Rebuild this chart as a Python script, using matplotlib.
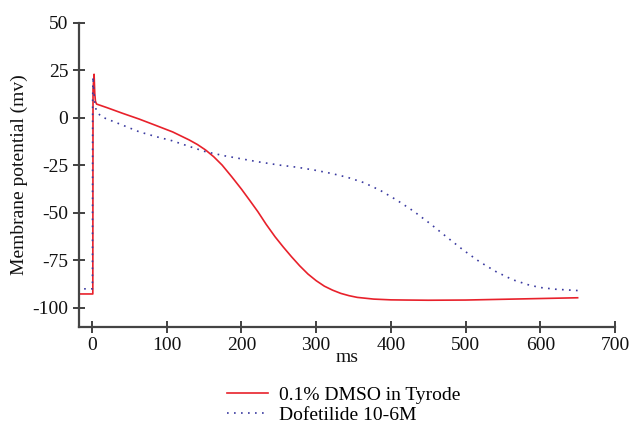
import matplotlib
matplotlib.use("Agg")
import matplotlib.pyplot as plt

plt.rcParams['font.family'] = ['Liberation Serif', 'DejaVu Serif']

# DMSO control (red)
t_dmso = [-20, 1.0, 1.3, 2.7, 3.6, 4.5, 6, 20, 41, 63, 85, 108, 130, 141, 152, 163, 174,
          187, 200, 211, 222, 233, 245, 256, 267, 278, 289, 300, 311, 322, 333, 344, 355,
          377, 400, 421, 450, 500, 550, 600, 650]
v_dmso = [-92.7, -92.7, 15, 23, 13, 8.8, 7.3, 5.4, 2.4, -0.6, -3.9, -7.4, -11.6, -14.0,
          -16.9, -20.5, -24.8, -31.0, -37.5, -43.4, -49.4, -56.0, -62.6, -68.0, -73.1,
          -77.9, -82.2, -85.7, -88.6, -90.7, -92.4, -93.6, -94.5, -95.4, -95.8, -95.9,
          -96.0, -95.9, -95.5, -95.1, -94.7]

# Dofetilide (blue dotted)
t_dof = [-20, 0.5, 0.8, 1.3, 2.2, 3.6, 5.8, 12.5, 37, 63, 85, 107, 130, 152, 178, 222, 250,
         275, 298, 320, 342, 364, 386, 408, 430, 452, 475, 497, 519, 541, 563, 585, 600,
         620, 650]
v_dof = [-90, -90, 10, 21.7, 15, 8.0, 3.5, 0.6, -3.2, -7.3, -9.8, -12.0, -15.0, -17.8,
         -20.0, -23.1, -24.8, -26.0, -27.5, -29.2, -31.3, -34.1, -38.2, -43.3, -49.0,
         -55.5, -62.8, -69.6, -75.8, -81.0, -85.2, -88.0, -89.3, -90.2, -90.9]

xticks = [0, 100, 200, 300, 400, 500, 600, 700]
yticks = [-100, -75, -50, -25, 0, 25, 50]

fig = plt.figure(figsize=(6.34, 4.25), dpi=100)
ax = fig.add_axes([0.124, 0.231, 0.846, 0.715])

ax.plot(t_dmso, v_dmso, color='#e8212b', lw=1.2, label='0.1% DMSO in Tyrode')
ax.plot(t_dof, v_dof, color='#3a3aa0', lw=1.2, dashes=(1, 3.2), label='Dofetilide 10-6M')

ax.set_xlim(-18, 700)
ax.set_ylim(-110, 50)
ax.set_xticks(xticks)
ax.set_yticks(yticks)
ax.set_xticklabels([str(x) for x in xticks])
ax.set_yticklabels([str(y) for y in yticks])

for s in ['top', 'right']:
    ax.spines[s].set_visible(False)
for s in ['left', 'bottom']:
    ax.spines[s].set_color('#444444')
    ax.spines[s].set_linewidth(1.6)

ax.tick_params(direction='inout', length=9, width=1.3, color='#333333',
               labelsize=14, labelcolor='#111111', pad=3)

ax.set_xlabel('ms', fontsize=14, labelpad=-4, color='#111111')
ax.set_ylabel('Membrane potential (mv)', fontsize=14, labelpad=3, color='#111111')

fig.legend(loc='center', bbox_to_anchor=(0.542, 1 - 405 / 425), frameon=False,
           fontsize=14, handlelength=2.1, handletextpad=0.6, labelspacing=0.1,
           borderaxespad=0, borderpad=0)

fig.savefig('out.png', dpi=100)
